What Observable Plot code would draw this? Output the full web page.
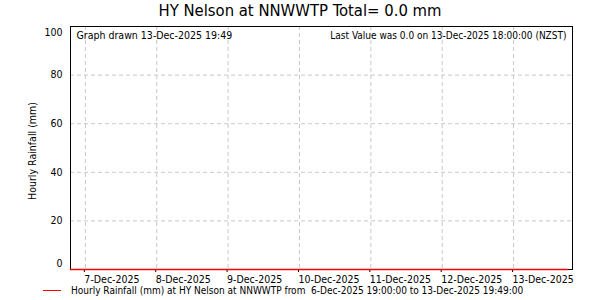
<!DOCTYPE html>
<html>
<head>
<meta charset="utf-8">
<script src="https://cdn.jsdelivr.net/npm/d3@7"></script>
<script src="https://cdn.jsdelivr.net/npm/@observablehq/plot@0.6"></script>
<style>
  html, body { margin: 0; padding: 0; background: #fff; }
  #wrap { position: relative; width: 600px; height: 300px; overflow: hidden;
          font-family: "DejaVu Sans Condensed", "DejaVu Sans", sans-serif; font-stretch: condensed; }
  #title { position: absolute; left: 0; width: 600px; top: 1px; text-align: center;
           font-size: 16.5px; color: #000; line-height: 20px; }
  #legend { position: absolute; left: 43px; top: 285px; font-size: 10px; line-height: 11px; color: #000; white-space: pre; }
  #legend .sw { display: inline-block; width: 18px; height: 0; border-top: 1px solid #ff0000; vertical-align: middle; margin-right: 10px; position: relative; top: -1px; }
  svg { position: absolute; left: 0; top: 0; }
</style>
</head>
<body>
<div id="wrap">
  <div id="title"></div>
  <div id="legend"></div>
</div>
<script>
// ---- data ----
const titleText = "HY Nelson at NNWWTP Total= 0.0 mm";
const drawnText = "Graph drawn 13-Dec-2025 19:49";
const lastText = "Last Value was 0.0 on 13-Dec-2025 18:00:00 (NZST)";
const yLabel = "Hourly Rainfall (mm)";
const legendText = "Hourly Rainfall (mm) at HY Nelson at NNWWTP from  6-Dec-2025 19:00:00 to 13-Dec-2025 19:49:00";
const seriesTimes = ["2025-12-06T19:00", "2025-12-07T00:00", "2025-12-08T00:00", "2025-12-09T00:00",
                     "2025-12-10T00:00", "2025-12-11T00:00", "2025-12-12T00:00", "2025-12-13T00:00", "2025-12-13T18:00"];
const seriesRain = [0, 0, 0, 0, 0, 0, 0, 0, 0];
const xStart = "2025-12-06T19:00";
const xEnd = "2025-12-13T19:49";
const xTicks = ["2025-12-07", "2025-12-08", "2025-12-09", "2025-12-10", "2025-12-11", "2025-12-12", "2025-12-13"];
const yTicksMid = [20, 40, 60, 80];
const yMax = 100;

const utc = s => new Date(s.length === 10 ? s + "T00:00Z" : s + "Z");
const data = seriesTimes.map((t, i) => ({t: utc(t), v: seriesRain[i]}));
const ticks = xTicks.map(utc);
const fmt = d3.utcFormat("%-d-%b-%Y");
const font = "DejaVu Sans Condensed, DejaVu Sans, sans-serif";
const grid = {stroke: "#c8c8c8", strokeOpacity: 1, strokeDasharray: "4,3"};

const chart = Plot.plot({
  width: 600,
  height: 300,
  marginTop: 26,
  marginBottom: 31,
  marginLeft: 70,
  marginRight: 28,
  style: {fontFamily: font, fontSize: "10.5px", color: "#000", background: "transparent"},
  x: {type: "utc", domain: [utc(xStart), utc(xEnd)], axis: null},
  y: {domain: [0, yMax], axis: null},
  marks: [
    Plot.gridY(yTicksMid, grid),
    Plot.gridX(ticks, grid),
    Plot.axisX(ticks, {tickSize: 3, tickPadding: 3, tickFormat: fmt, textAnchor: "start", dx: -1, stroke: "#000", fontSize: 10.5, label: null}),
    Plot.axisY(yTicksMid, {tickSize: 0, tickPadding: 8, fontSize: 10.5, label: null}),
    Plot.axisY([0], {tickSize: 0, tickPadding: 8, dy: -6, fontSize: 10.5, label: null}),
    Plot.axisY([yMax], {tickSize: 0, tickPadding: 8, dy: 6, fontSize: 10.5, label: null}),
    Plot.frame({stroke: "#000", strokeWidth: 1}),
    Plot.line(data, {x: "t", y: "v", stroke: "#ff0000", strokeWidth: 1.5}),
    Plot.text([yLabel], {frameAnchor: "left", dx: -38, dy: 3, rotate: -90, textAnchor: "middle", fontSize: 10.5}),
    Plot.text([drawnText], {frameAnchor: "top-left", dx: 6, dy: 5.5, textAnchor: "start", fontSize: 10.5}),
    Plot.text([lastText], {frameAnchor: "top-right", dx: -6, dy: 5.5, textAnchor: "end", fontSize: 10})
  ]
});

const wrap = document.getElementById("wrap");
wrap.insertBefore(chart, wrap.firstChild);
document.getElementById("title").textContent = titleText;
const leg = document.getElementById("legend");
const sw = document.createElement("span"); sw.className = "sw";
leg.appendChild(sw);
leg.appendChild(document.createTextNode(legendText));
</script>
</body>
</html>
